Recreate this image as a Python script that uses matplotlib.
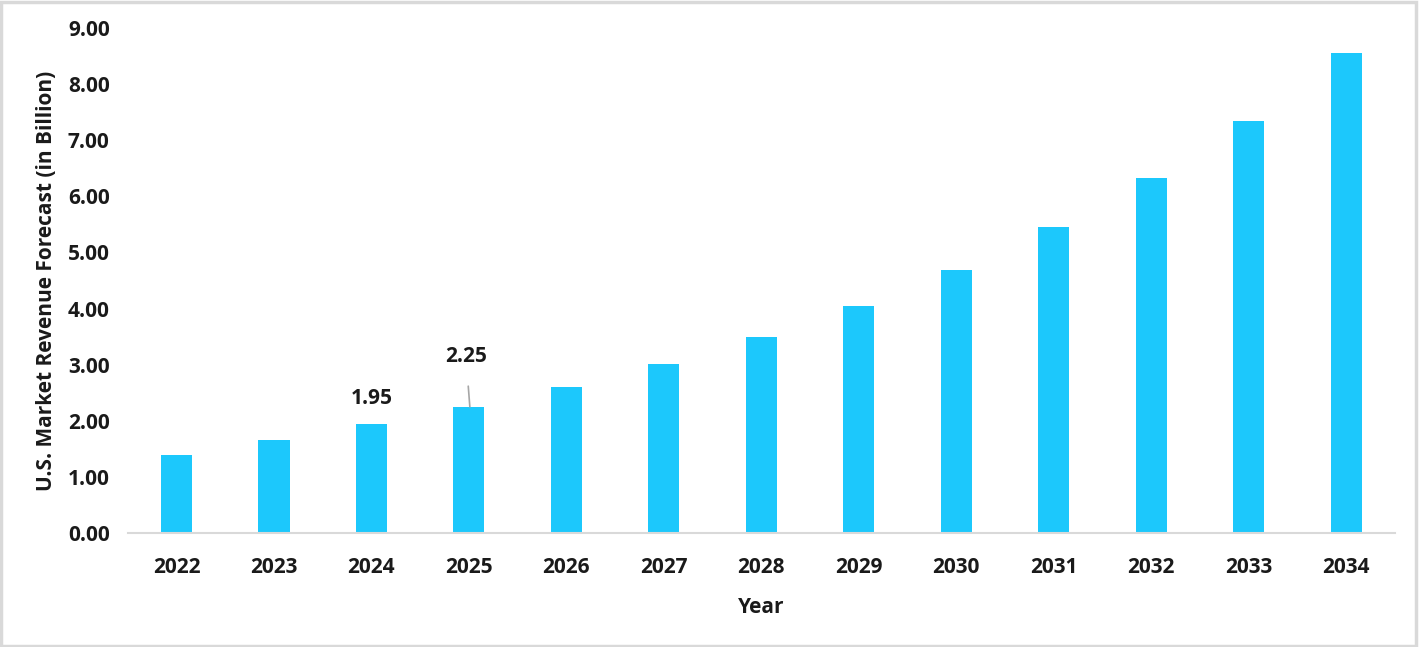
import matplotlib.pyplot as plt
from matplotlib.ticker import FormatStrFormatter
from matplotlib.patches import Rectangle

years = ["2022", "2023", "2024", "2025", "2026", "2027", "2028",
         "2029", "2030", "2031", "2032", "2033", "2034"]
revenue = [1.40, 1.65, 1.95, 2.25, 2.60, 3.01, 3.49,
           4.05, 4.69, 5.45, 6.33, 7.34, 8.55]

plt.rcParams['font.family'] = ['Open Sans', 'DejaVu Sans']
plt.rcParams['font.weight'] = 'bold'

fs = 15
txt = "#1a1a1a"

fig = plt.figure(figsize=(14.19, 6.47), dpi=100)
ax = fig.add_axes([0.090, 0.176, 0.893, 0.781])

x = list(range(len(years)))
ax.bar(x, revenue, width=0.32, color="#1CC8FC", zorder=2)

ax.set_xlim(-0.5, len(years) - 0.5)
ax.set_ylim(0, 9)
ax.set_yticks(range(0, 10))
ax.yaxis.set_major_formatter(FormatStrFormatter('%.2f'))
ax.set_xticks(x)
ax.set_xticklabels(years)
ax.tick_params(axis='both', length=0, labelsize=fs, colors=txt)
ax.tick_params(axis='x', pad=17)
ax.tick_params(axis='y', pad=13)

for s in ["top", "right", "left"]:
    ax.spines[s].set_visible(False)
ax.spines["bottom"].set_color("#D9D9D9")
ax.spines["bottom"].set_linewidth(1.5)

ax.set_xlabel("Year", fontsize=fs, fontweight='bold', labelpad=14, color=txt)
ax.set_ylabel("U.S. Market Revenue Forecast (in Billion)", fontsize=fs,
              fontweight='bold', labelpad=8, color=txt)

# data labels
ax.annotate(f"{revenue[2]:.2f}", xy=(2, revenue[2]), xytext=(0, 18),
            textcoords="offset points", ha="center", va="center",
            fontsize=fs, fontweight='bold', color=txt)
ax.annotate(f"{revenue[3]:.2f}", xy=(3 + 0.01, revenue[3]), xytext=(3 - 0.03, revenue[3] + 0.90),
            textcoords="data", ha="center", va="center",
            fontsize=fs, fontweight='bold', color=txt,
            arrowprops=dict(arrowstyle="-", color="#A6A6A6", lw=1.2, shrinkA=12, shrinkB=0))

# outer frame
fig.patches.append(Rectangle((0.001, 0.002), 0.997, 0.995, transform=fig.transFigure,
                             fill=False, edgecolor="#D9D9D9", linewidth=2.5))

fig.savefig("out.png", dpi=100)
